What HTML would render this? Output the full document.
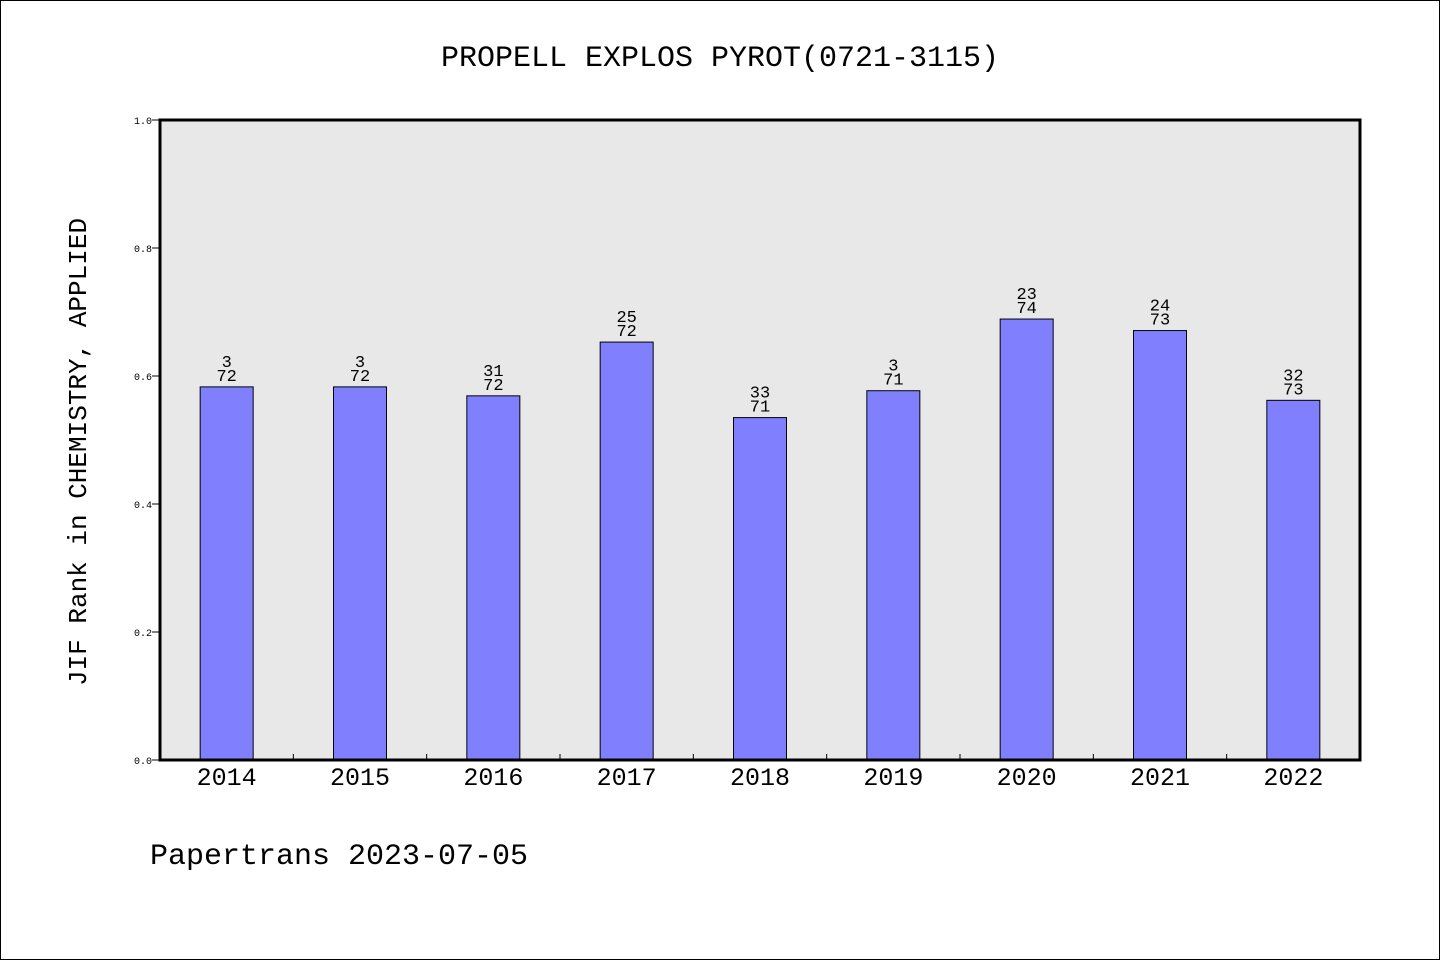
<!DOCTYPE html>
<html><head><meta charset="utf-8"><style>
html,body{margin:0;padding:0;background:#fff;}
svg{display:block;font-family:"Liberation Mono","DejaVu Sans Mono",monospace;}
</style></head><body>
<svg id="chart" width="1440" height="960" xmlns="http://www.w3.org/2000/svg">
<rect x="0.5" y="0.5" width="1439" height="959" fill="#fff" stroke="#000"/>
<text x="720" y="66" text-anchor="middle" font-size="30" fill="#000">PROPELL EXPLOS PYROT(0721-3115)</text>
<rect x="160" y="120" width="1200" height="640" fill="#e8e8e8"/>
<g id="ticks"></g>
<g id="bars"></g>
<rect x="160" y="120" width="1200" height="640" fill="none" stroke="#000" stroke-width="3"/>
<text transform="translate(86,452) rotate(-90)" text-anchor="middle" font-size="26" fill="#000">JIF Rank in CHEMISTRY, APPLIED</text>
<text x="150" y="864" font-size="30" fill="#000">Papertrans 2023-07-05</text>
</svg>
<script>
const years=["2014","2015","2016","2017","2018","2019","2020","2021","2022"];
const values=[0.583,0.583,0.569,0.653,0.535,0.577,0.689,0.671,0.562];
const ranks=["3","3","31","25","33","3","23","24","32"];
const totals=["72","72","72","72","71","71","74","73","73"];
const yTicks=[0,0.2,0.4,0.6,0.8,1.0];
const yTickLabels=["0.0","0.2","0.4","0.6","0.8","1.0"];
const NS="http://www.w3.org/2000/svg";
const x0=160,w=1200,yb=760,h=640;
const band=w/years.length;
function xc(i){return x0+band*(i+0.5);}
function y(v){return yb-v*h;}
function mk(t,a,p){const e=document.createElementNS(NS,t);for(const k in a)e.setAttribute(k,a[k]);p.appendChild(e);return e;}
const tg=document.getElementById('ticks'),bg=document.getElementById('bars');
yTicks.forEach((v,i)=>{
 const l=mk('line',{x1:x0-8,x2:x0,y1:y(v),y2:y(v),stroke:'#000'},tg);
 
 
 const t=mk('text',{x:x0-8,y:y(v)+4,'text-anchor':'end','font-size':10,fill:'#000'},tg);
 t.textContent=yTickLabels[i];
 
 
});
for(let i=1;i<years.length;i++){
 const l=mk('line',{x1:x0+band*i,x2:x0+band*i,y1:yb,y2:yb-6,stroke:'#000'},tg);
 
 
}
years.forEach((yr,i)=>{
 const bw=53,cx=xc(i);
 const r=mk('rect',{x:cx-bw/2,y:y(values[i]),width:bw,height:yb-y(values[i]),fill:'#8080ff',stroke:'#000','stroke-width':1},bg);
 
 
 const t1=mk('text',{x:cx,y:y(values[i])-20,'text-anchor':'middle','font-size':17,fill:'#000'},bg);
 t1.textContent=ranks[i];
 
 
 const t2=mk('text',{x:cx,y:y(values[i])-6,'text-anchor':'middle','font-size':17,fill:'#000'},bg);
 t2.textContent=totals[i];
 
 
 const xl=mk('text',{x:cx,y:785,'text-anchor':'middle','font-size':25,fill:'#000'},bg);
 xl.textContent=yr;
 
 
});
</script>
</body></html>
